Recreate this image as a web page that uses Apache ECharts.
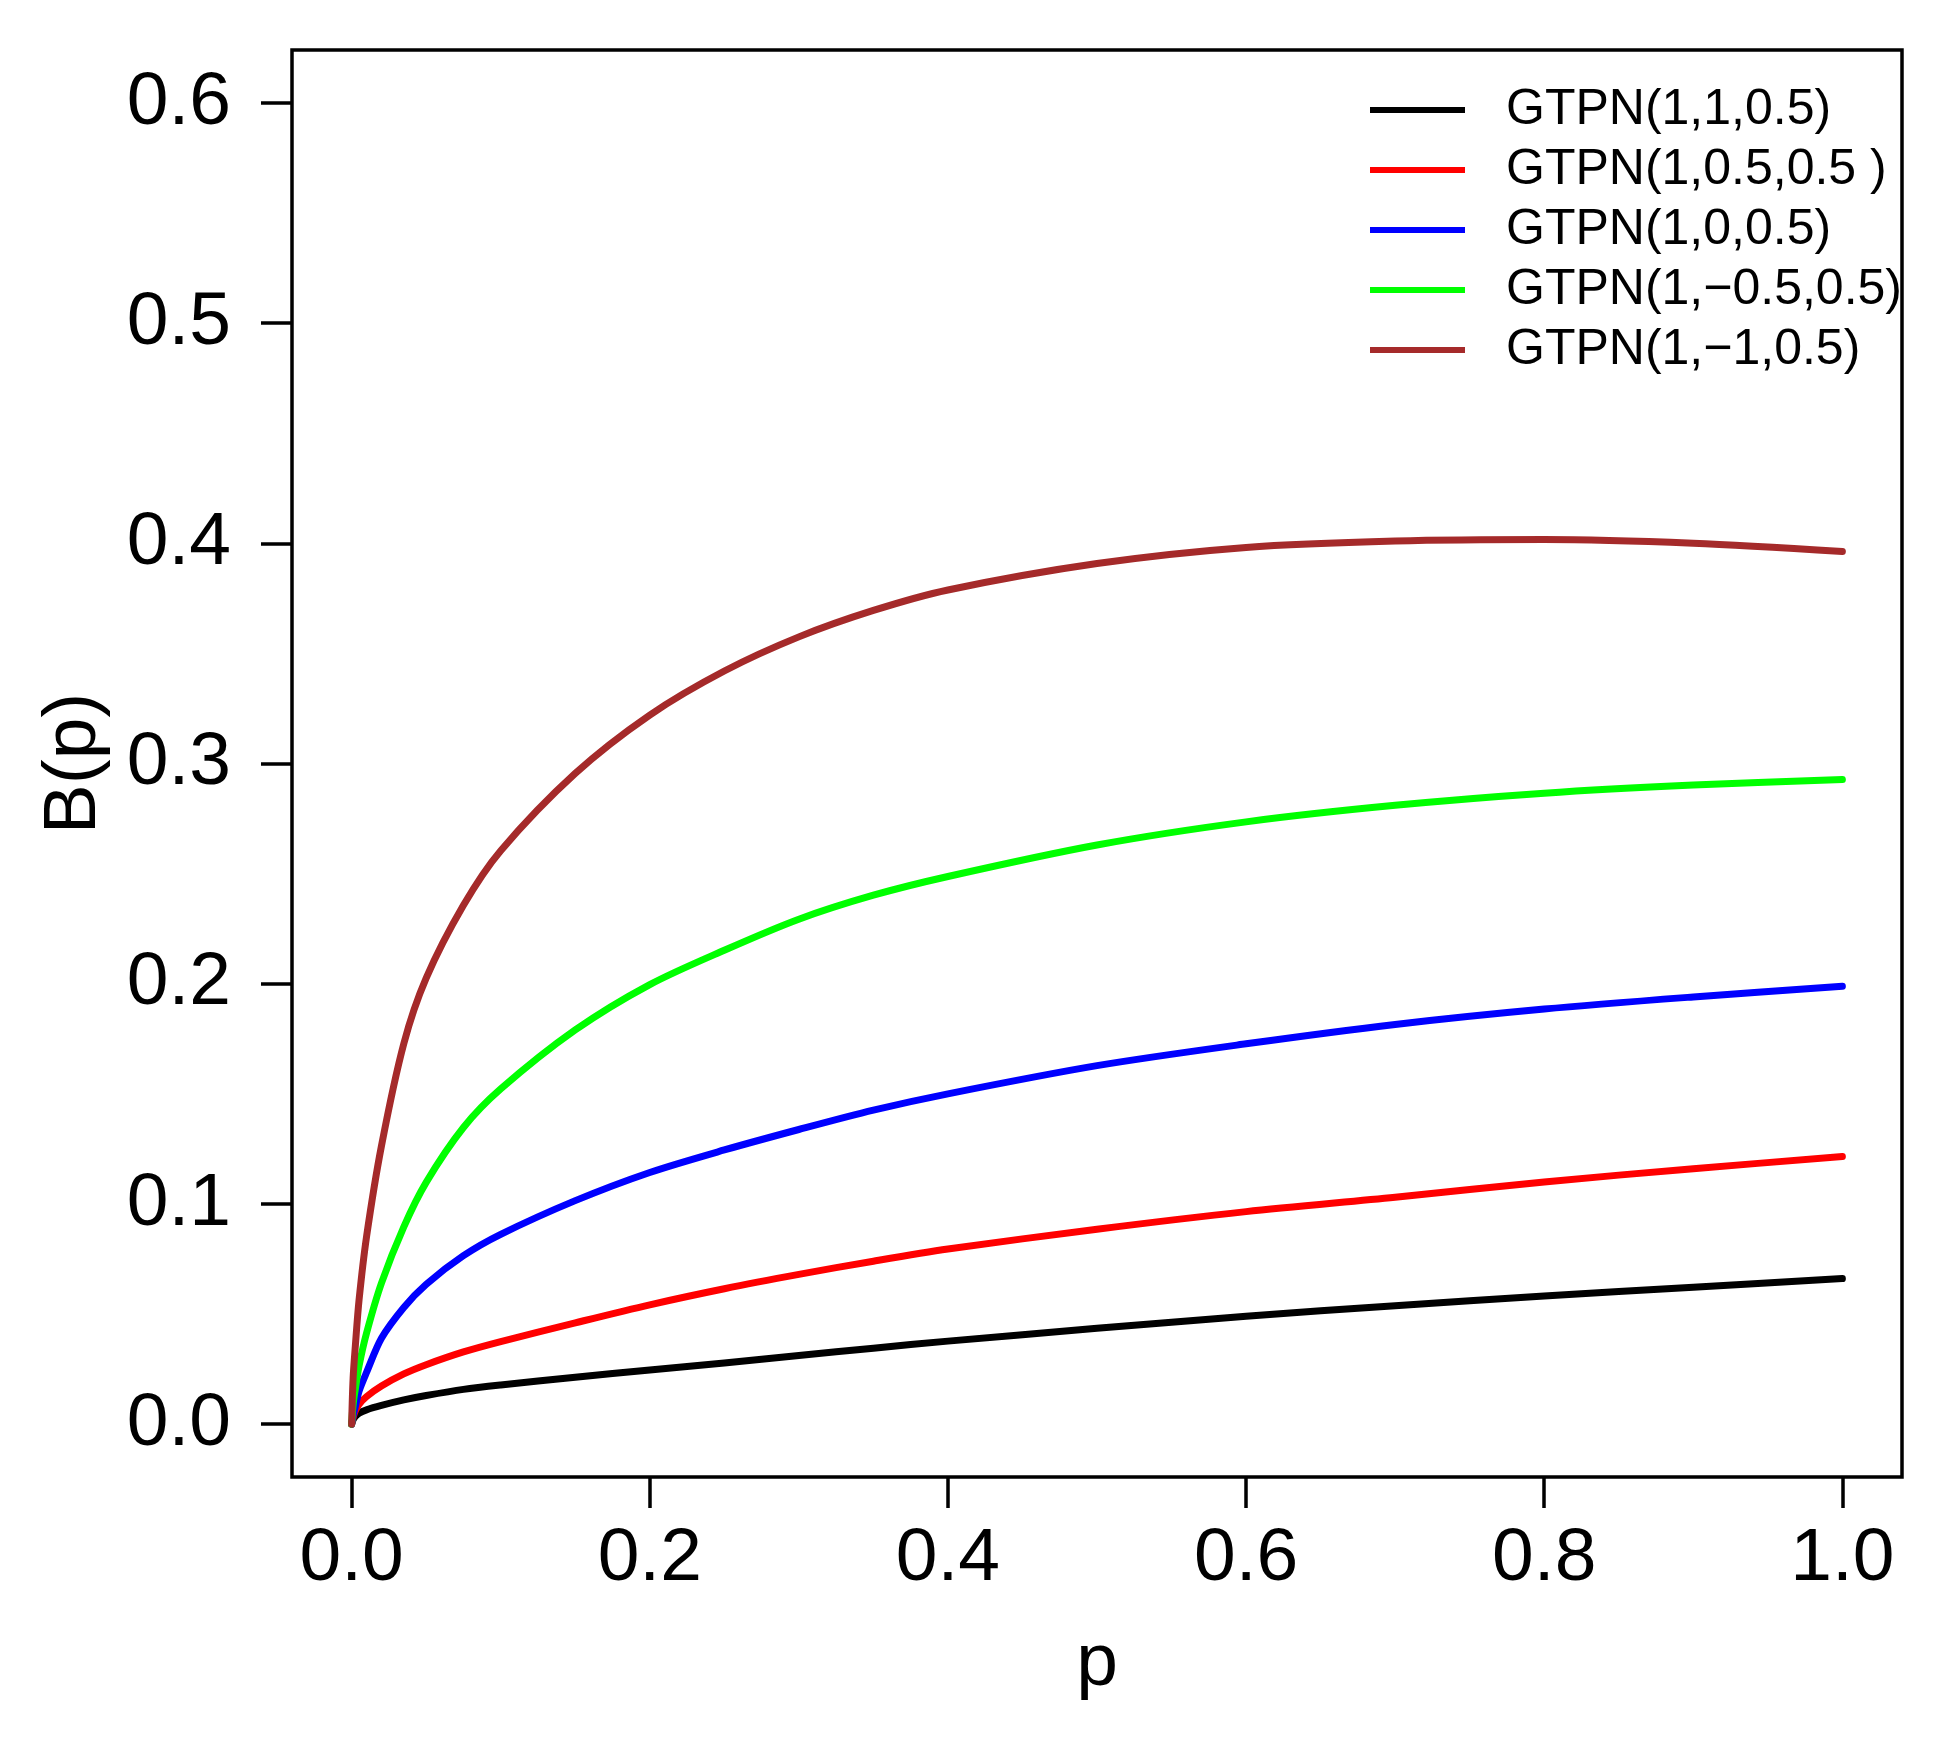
<!DOCTYPE html>
<html>
<head>
<meta charset="utf-8">
<title>B(p)</title>
<script src="https://cdn.jsdelivr.net/npm/echarts@6/dist/echarts.min.js"></script>
<style>
  html, body { margin: 0; padding: 0; background: #fff; }
  #chart { width: 1950px; height: 1739px; }
</style>
</head>
<body>
<div id="chart"></div>
<script>
  // p grid and B(p) values
  const P = [0, 0.001, 0.0025, 0.005, 0.01, 0.02, 0.035, 0.05, 0.075, 0.1, 0.15, 0.2, 0.25, 0.3, 0.35, 0.4, 0.5, 0.6, 0.7, 0.8, 0.9, 1.0];
  const B_1_1 = [0, 0.002, 0.0035, 0.005, 0.0065, 0.0085, 0.011, 0.013, 0.0158, 0.0178, 0.0213, 0.0246, 0.0278, 0.0312, 0.0345, 0.0377, 0.0435, 0.049, 0.0538, 0.0582, 0.0622, 0.0661];
  const B_1_05 = [0, 0.003, 0.006, 0.009, 0.0125, 0.0173, 0.0228, 0.027, 0.0328, 0.0375, 0.046, 0.0542, 0.0615, 0.068, 0.074, 0.0795, 0.0885, 0.0965, 0.103, 0.110, 0.116, 0.1215];
  const B_1_0 = [0, 0.004, 0.008, 0.015, 0.0235, 0.039, 0.053, 0.0635, 0.0765, 0.0862, 0.1015, 0.1143, 0.1245, 0.1338, 0.1426, 0.150, 0.1628, 0.1727, 0.1815, 0.1885, 0.194, 0.1989];
  const B_1_m05 = [0, 0.009, 0.016, 0.0265, 0.0413, 0.064, 0.0896, 0.1098, 0.1347, 0.1522, 0.179, 0.1996, 0.2152, 0.2293, 0.2402, 0.2487, 0.263, 0.2735, 0.281, 0.2865, 0.2902, 0.2927];
  const B_1_m1 = [0, 0.021, 0.0356, 0.0565, 0.0851, 0.1263, 0.1728, 0.2025, 0.2356, 0.2604, 0.2955, 0.322, 0.342, 0.3575, 0.3695, 0.3788, 0.3908, 0.3981, 0.401, 0.4017, 0.40, 0.3963];

  const NAMES = ["GTPN(1,1,0.5)", "GTPN(1,0.5,0.5 )", "GTPN(1,0,0.5)", "GTPN(1,\u22120.5,0.5)", "GTPN(1,\u22121,0.5)"];
  const VALUES = [B_1_1, B_1_05, B_1_0, B_1_m05, B_1_m1];
  const COLORS = ["#000000", "#ff0000", "#0000ff", "#00ff00", "#a52a2a"];
  const X_TICKS = [0, 0.2, 0.4, 0.6, 0.8, 1.0];
  const Y_TICKS = [0, 0.1, 0.2, 0.3, 0.4, 0.5, 0.6];

  const FONT = "Liberation Sans, Arial, Helvetica, sans-serif";
  const chart = echarts.init(document.getElementById("chart"));

  const axisCommon = {
    type: "value",
    axisLine: { show: false, onZero: false },
    splitLine: { show: false },
    axisTick: { show: true, inside: false, length: 31, lineStyle: { color: "#000", width: 3.5 } },
    nameLocation: "middle",
    nameTextStyle: { fontFamily: FONT, fontSize: 75, color: "#000", verticalAlign: "middle" },
  };

  chart.setOption({
    animation: false,
    backgroundColor: "#fff",
    grid: { left: 292, right: 48, top: 50, bottom: 262, show: true, borderColor: "#000", borderWidth: 3.5, backgroundColor: "transparent" },
    legend: {
      orient: "vertical", left: 1370, top: 80, padding: 0, itemGap: 0,
      itemWidth: 95, itemHeight: 6, icon: "rect",
      textStyle: { fontFamily: FONT, fontSize: 50, color: "#000", lineHeight: 60, padding: [0, 0, 0, 36] },
      data: NAMES,
    },
    xAxis: Object.assign({}, axisCommon, {
      min: -0.04, max: 1.04,
      name: "p", nameGap: 187,
      axisTick: Object.assign({}, axisCommon.axisTick, { customValues: X_TICKS }),
      axisLabel: { customValues: X_TICKS, margin: 45, fontFamily: FONT, fontSize: 75, color: "#000", formatter: v => v.toFixed(1) },
    }),
    yAxis: Object.assign({}, axisCommon, {
      min: -0.024, max: 0.624,
      name: "B(p)", nameGap: 218, nameRotate: 90,
      axisTick: Object.assign({}, axisCommon.axisTick, { customValues: Y_TICKS }),
      axisLabel: { customValues: Y_TICKS, margin: 61, fontFamily: FONT, fontSize: 75, color: "#000", formatter: v => v.toFixed(1) },
    }),
    series: NAMES.map((n, i) => ({
      name: n,
      type: "line",
      data: P.map((p, j) => [p, VALUES[i][j]]),
      showSymbol: false,
      symbol: "none",
      smooth: 0.3,
      lineStyle: { color: COLORS[i], width: 7, cap: "round", join: "round" },
      itemStyle: { color: COLORS[i] },
      z: 2 + i,
    })),
  });
</script>
</body>
</html>
